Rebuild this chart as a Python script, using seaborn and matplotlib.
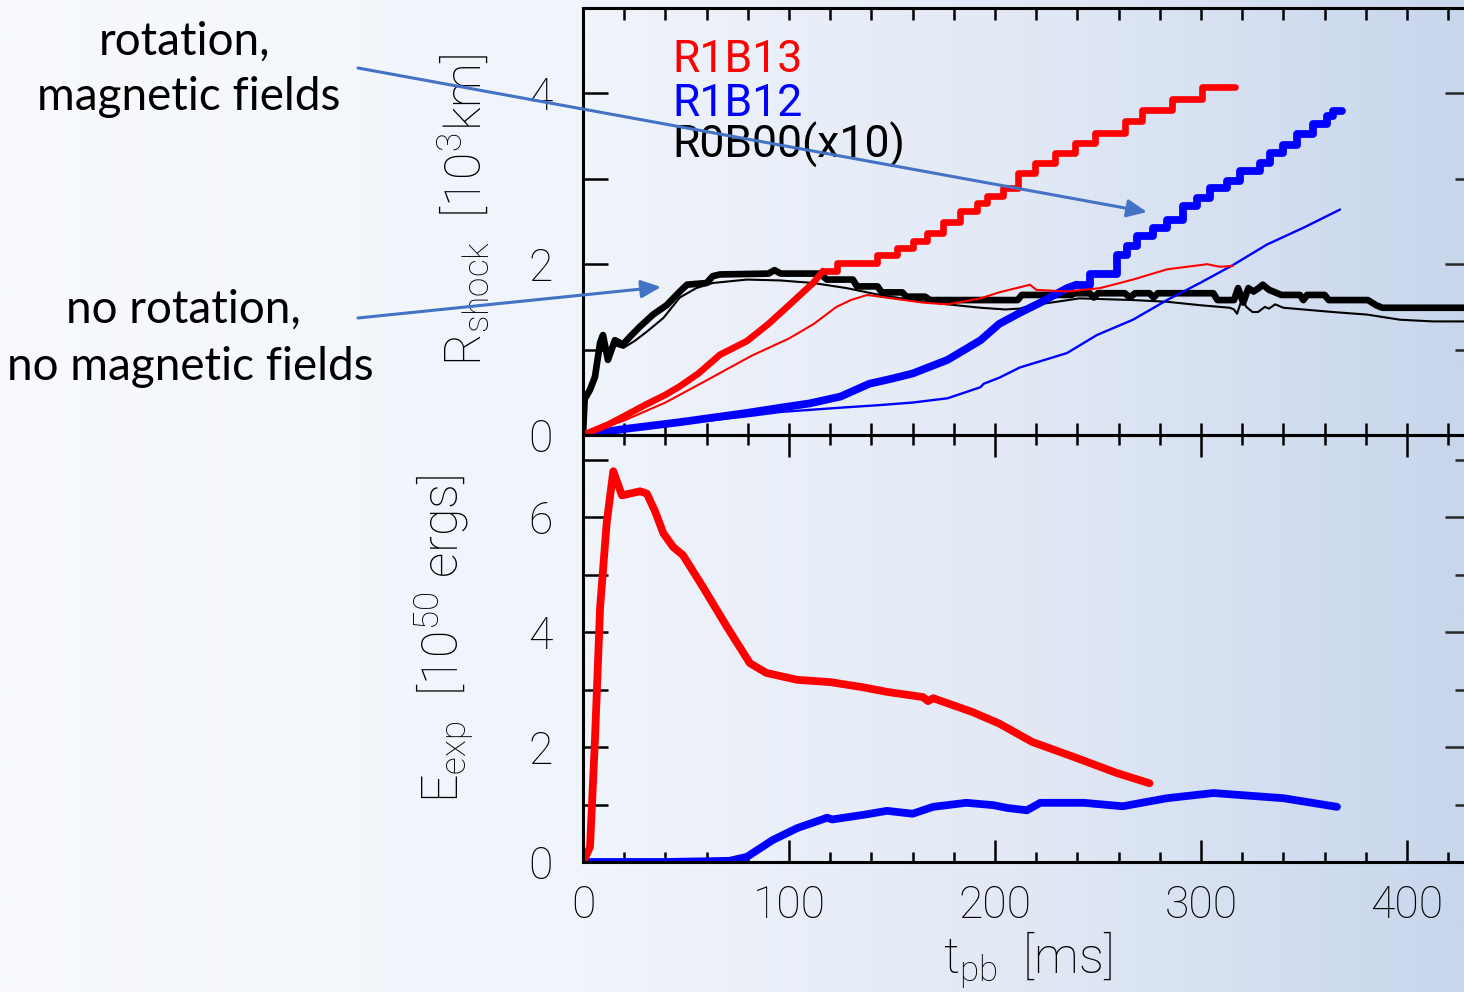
import numpy as np
import pandas as pd
import matplotlib
matplotlib.use("Agg")
import matplotlib.pyplot as plt
import seaborn as sns
from matplotlib.ticker import MultipleLocator, FixedLocator
from matplotlib.colors import LinearSegmentedColormap
from matplotlib.patches import FancyArrowPatch

# ---------------- data ----------------
# top panel: shock radius [10^3 km]
r13_ramp_t = [0, 5, 12, 20, 30, 40, 47, 56, 66.5, 79.6, 90, 100, 111.7, 116.5]
r13_ramp = [0, 0.05, 0.12, 0.22, 0.35, 0.47, 0.57, 0.72, 0.94, 1.1, 1.3, 1.52, 1.78, 1.92]
r13_step_t = [116.5, 123.2, 142.6, 152.3, 160.4, 166.8, 174.9, 183.0, 191.1, 196, 204.0, 211.3,
              219.4, 229.1, 238.8, 248.5, 263.1, 271.2, 285.7, 300.3, 316.5]
r13_step = [1.92, 2.01, 2.11, 2.19, 2.27, 2.37, 2.50, 2.62, 2.72, 2.80, 2.89, 3.07,
            3.19, 3.30, 3.42, 3.54, 3.68, 3.81, 3.93, 4.07, 4.07]
r13_thin_t = [0, 20, 40, 60, 82, 100, 112, 123, 130, 138, 150, 165, 177, 193, 202, 212, 217, 220,
              235, 251, 267, 283.5, 303, 309, 315.5]
r13_thin = [0, 0.17, 0.38, 0.64, 0.93, 1.13, 1.3, 1.5, 1.58, 1.64, 1.6, 1.55, 1.53, 1.6, 1.67, 1.73,
            1.76, 1.70, 1.68, 1.72, 1.82, 1.94, 2.0, 1.97, 1.98]

r12_ramp_t = [0, 20, 47, 80, 96, 110, 125, 139, 150, 160, 177, 193, 202, 212, 222, 235, 239.6]
r12_ramp = [0, 0.07, 0.15, 0.26, 0.32, 0.37, 0.45, 0.6, 0.66, 0.72, 0.88, 1.11, 1.3, 1.43, 1.55, 1.72, 1.76]
r12_step_t = [239.6, 246.1, 259.1, 263.9, 268.8, 276.9, 283.3, 291.4, 297.9, 304.4, 312.5, 318.9,
              328.6, 333.5, 340, 346.5, 354.5, 361, 364.2, 368.3]
r12_step = [1.76, 1.88, 2.11, 2.21, 2.33, 2.42, 2.52, 2.68, 2.78, 2.89, 2.97, 3.09,
            3.19, 3.30, 3.40, 3.52, 3.64, 3.73, 3.79, 3.79]
r12_thin_t = [0, 20, 47, 80, 96, 125, 144, 160, 177, 193, 194.5, 202, 212, 235, 249.4, 267, 283.5,
              299.5, 315.5, 332, 350, 367.5]
r12_thin = [0, 0.06, 0.13, 0.22, 0.27, 0.32, 0.35, 0.38, 0.43, 0.56, 0.6, 0.67, 0.79, 0.96, 1.17,
            1.35, 1.58, 1.78, 1.99, 2.23, 2.43, 2.64]

r0_thick_t = [0, 0.8, 3.4, 5.8, 8.3, 9.7, 12.1, 15.5, 19.4, 22.8, 27.7, 34, 40.6, 47, 50.5, 60, 63,
              66.5, 90, 93, 96, 115, 118.4, 131, 133, 143, 145, 155, 157, 166, 168.5, 211, 213, 237,
              239, 246, 248, 250, 263, 265.5, 268, 275, 277, 279, 306, 308, 316, 318, 320.5, 323,
              325.5, 328, 330, 333, 337, 339, 348, 349.7, 351.5, 360, 362, 381, 385, 388, 427.7]
r0_thick = [0, 0.42, 0.53, 0.68, 1.08, 1.17, 0.88, 1.11, 1.06, 1.15, 1.27, 1.41, 1.52, 1.68, 1.76,
            1.78, 1.86, 1.88, 1.89, 1.93, 1.89, 1.89, 1.82, 1.82, 1.74, 1.74, 1.67, 1.67, 1.62, 1.62,
            1.58, 1.58, 1.64, 1.64, 1.66, 1.66, 1.61, 1.66, 1.66, 1.61, 1.66, 1.66, 1.61, 1.66, 1.66,
            1.58, 1.58, 1.72, 1.55, 1.72, 1.68, 1.72, 1.76, 1.70, 1.66, 1.64, 1.64, 1.58, 1.64, 1.64,
            1.58, 1.58, 1.52, 1.49, 1.49]
r0_thin_t = [0, 0.8, 3.4, 5.8, 8.3, 9.7, 12.1, 15.5, 19.6, 25, 31, 39, 47, 55, 63, 79.6, 95.6, 111.7,
             128, 144, 160, 177, 193, 205, 212, 218, 230, 241, 267, 283.5, 299.5, 314, 316, 317.5,
             320, 322, 325, 327.7, 331, 333, 336, 340, 364, 380.6, 396.6, 412.6, 427.7]
r0_thin = [0, 0.42, 0.53, 0.68, 1.05, 1.12, 0.9, 1.05, 1.02, 1.1, 1.21, 1.37, 1.61, 1.72, 1.78, 1.82,
           1.81, 1.78, 1.72, 1.64, 1.58, 1.53, 1.49, 1.47, 1.48, 1.52, 1.56, 1.6, 1.58, 1.56, 1.52,
           1.49, 1.47, 1.42, 1.6, 1.5, 1.44, 1.44, 1.5, 1.48, 1.53, 1.49, 1.44, 1.41, 1.35, 1.33, 1.33]

# bottom panel: explosion energy [10^50 erg]
e13_t = [0, 3.4, 5.8, 8.3, 11.5, 14.7, 18.9, 27.7, 31, 35, 39, 43.8, 48.5, 58.3, 69.9, 81, 89, 104,
         120, 136, 147.6, 165, 167.5, 170, 189, 202, 212, 218, 239.6, 259, 275]
e13 = [0, 0.26, 2.12, 4.43, 5.9, 6.8, 6.38, 6.45, 6.41, 6.1, 5.72, 5.48, 5.34, 4.78, 4.09, 3.46, 3.29,
       3.17, 3.13, 3.04, 2.96, 2.87, 2.8, 2.85, 2.61, 2.41, 2.21, 2.09, 1.81, 1.55, 1.37]
e12_t = [0, 40, 71, 79.6, 92, 104, 118.5, 121, 136, 147.6, 160, 170, 186, 199, 206, 215.5, 222, 243,
         262, 283.5, 306, 340, 366]
e12 = [0, 0, 0.02, 0.09, 0.38, 0.59, 0.77, 0.74, 0.82, 0.89, 0.84, 0.96, 1.03, 0.99, 0.94, 0.9, 1.03,
       1.03, 0.97, 1.11, 1.2, 1.11, 0.96]

legend_labels = ["R1B13", "R1B12", "R0B00(x10)"]
xticks = [0, 100, 200, 300, 400]
note_top = ["rotation,", "magnetic fields"]
note_bottom = ["no rotation,", "no magnetic fields"]

# ---------------- style ----------------
sns.set_theme(style="white")
plt.rcParams["font.family"] = ["Roboto", "DejaVu Sans"]
plt.rcParams["font.weight"] = "light"
plt.rcParams["text.color"] = "black"
plt.rcParams["xtick.labelcolor"] = "black"
plt.rcParams["ytick.labelcolor"] = "black"
plt.rcParams["mathtext.fontset"] = "custom"
plt.rcParams["mathtext.rm"] = "Roboto:light"
plt.rcParams["mathtext.it"] = "Roboto:italic"
plt.rcParams["mathtext.bf"] = "Roboto:bold"

W, H = 1464, 992
fig = plt.figure(figsize=(W / 100, H / 100), dpi=100)

# background gradient
bg = fig.add_axes([0, 0, 1, 1], zorder=-10)
grad_cols = ["#f8fafd", "#f0f4fb", "#e2e9f5", "#c8d6ec"]
cmap = LinearSegmentedColormap.from_list("bg", list(zip([0, 0.4, 0.7, 1.0], grad_cols)))
bg.imshow(np.linspace(0, 1, 512)[None, :], aspect="auto", cmap=cmap, extent=[0, 1, 0, 1])
bg.set_axis_off()

x0 = 583 / W
ax1 = fig.add_axes([x0, 1 - 435 / H, 1 - x0, (435 - 8) / H])
ax2 = fig.add_axes([x0, 1 - 862 / H, 1 - x0, (862 - 435) / H], sharex=ax1)

RED, BLUE, BLACK = "#ff0000", "#0000ff", "#000000"


def line(ax, t, v, color, lw, step=False):
    kw = dict(drawstyle="steps-post") if step else {}
    sns.lineplot(x=t, y=v, ax=ax, color=color, lw=lw, estimator=None, sort=False,
                 solid_capstyle="round", solid_joinstyle="round", **kw)


line(ax1, r0_thin_t, r0_thin, BLACK, 1.5)
line(ax1, r0_thick_t, r0_thick, BLACK, 4.8)
line(ax1, r12_thin_t, r12_thin, BLUE, 1.7)
line(ax1, r12_ramp_t, r12_ramp, BLUE, 5.6)
line(ax1, r12_step_t, r12_step, BLUE, 5.6, step=True)
line(ax1, r13_thin_t, r13_thin, RED, 1.5)
line(ax1, r13_ramp_t, r13_ramp, RED, 4.8)
line(ax1, r13_step_t, r13_step, RED, 4.8, step=True)

line(ax2, e12_t, e12, BLUE, 5.6)
line(ax2, e13_t, e13, RED, 5.6)

xmax = (W - 583) / 2.06
ax1.set_xlim(0, xmax)
ax1.set_ylim(0, 5)
ax2.set_ylim(0, 7.43)

for ax in (ax1, ax2):
    ax.set_facecolor("none")
    ax.set_xlabel("")
    ax.set_ylabel("")
    for s in ("left", "top", "bottom"):
        ax.spines[s].set_visible(True)
        ax.spines[s].set_color("black")
        ax.spines[s].set_linewidth(2.2)
    ax.spines["right"].set_visible(False)
    ax.xaxis.set_major_locator(FixedLocator(xticks))
    ax.xaxis.set_minor_locator(MultipleLocator(20))
    ax.tick_params(axis="y", which="both", direction="in", left=True, right=False,
                   length=18, width=1.8, color="black", labelcolor="black", labelsize=32, pad=22)

ax1.tick_params(axis="x", which="both", direction="in", top=True, bottom=True,
                length=8.6, width=1.8, color="black", labelbottom=False)
ax2.tick_params(axis="x", which="major", direction="in", top=True, bottom=True,
                length=16, width=1.8, color="black", labelcolor="black", labelsize=32, pad=16)
ax2.tick_params(axis="x", which="minor", direction="in", top=True, bottom=True,
                length=7, width=1.8, color="black")
ax2.set_xticklabels([str(v) for v in xticks])

ax1.yaxis.set_major_locator(FixedLocator([0, 2, 4]))
ax1.yaxis.set_minor_locator(FixedLocator([1, 3, 5]))
ax2.yaxis.set_major_locator(FixedLocator([0, 2, 4, 6]))
ax2.yaxis.set_minor_locator(FixedLocator([1, 3, 5, 7]))
ax1.set_yticklabels(["0", "2", "4"])
ax2.set_yticklabels(["0", "2", "4", "6"])
for ax in (ax1, ax2):
    for lab in ax.get_xticklabels() + ax.get_yticklabels():
        lab.set_fontweight("light")
        lab.set_color("black")

# right-side ticks (shorter)
for ax, maj, mnr in ((ax1, [0, 2, 4], [1, 3]), (ax2, [0, 2, 4, 6], [1, 3, 5, 7])):
    sec = ax.secondary_yaxis("right")
    sec.yaxis.set_major_locator(FixedLocator(maj))
    sec.yaxis.set_minor_locator(FixedLocator(mnr))
    sec.tick_params(which="major", direction="in", length=13.7, width=1.8, labelright=False)
    sec.tick_params(which="minor", direction="in", length=6.5, width=1.8, labelright=False)
    sec.spines["right"].set_visible(False)

# axis titles
lab_kw = dict(fontsize=36, family=["Roboto", "DejaVu Sans"], fontweight="light", color="black",
              rotation=90, ha="center", va="center")
ax1.text(-0.135, 0.527, r"R$_{\mathrm{shock}}$  [10$^{3}$km]", transform=ax1.transAxes, **lab_kw)
ax2.text(-0.157, 0.522, r"E$_{\mathrm{exp}}$  [10$^{50}$ ergs]", transform=ax2.transAxes, **lab_kw)
ax2.text(0.504, -0.23, r"t$_{\mathrm{pb}}$  [ms]", transform=ax2.transAxes, fontsize=36,
         fontweight="light", color="black", ha="center", va="center",
         family=["Roboto", "DejaVu Sans"])

# legend-like labels
for lab, col, yb in zip(legend_labels, [RED, BLUE, BLACK], [4.246, 3.73, 3.25]):
    ax1.text(43.5, yb, lab, color=col, fontsize=32, fontweight="normal", va="baseline", ha="left",
             family=["Roboto", "DejaVu Sans"])

# annotations
note_kw = dict(fontsize=33, family=["Lato", "DejaVu Sans"], fontweight="normal",
               ha="center", va="baseline", color="black")
for txt, (px, py) in zip(note_top + note_bottom, [(184, 55), (189, 110), (183, 323), (190, 380)]):
    fig.text(px / W, 1 - py / H, txt, **note_kw)

ARROW = "#4472c4"
for (xa, ya), (xb, yb) in [((358, 68), (1147, 212)), ((358, 318), (661, 287))]:
    arr = FancyArrowPatch((xa / W, 1 - ya / H), (xb / W, 1 - yb / H), transform=fig.transFigure,
                          arrowstyle="-|>,head_length=0.6,head_width=0.27", mutation_scale=20,
                          color=ARROW, lw=2.2, shrinkA=0, shrinkB=0, zorder=20)
    fig.add_artist(arr)

fig.savefig("out.png", dpi=100)
